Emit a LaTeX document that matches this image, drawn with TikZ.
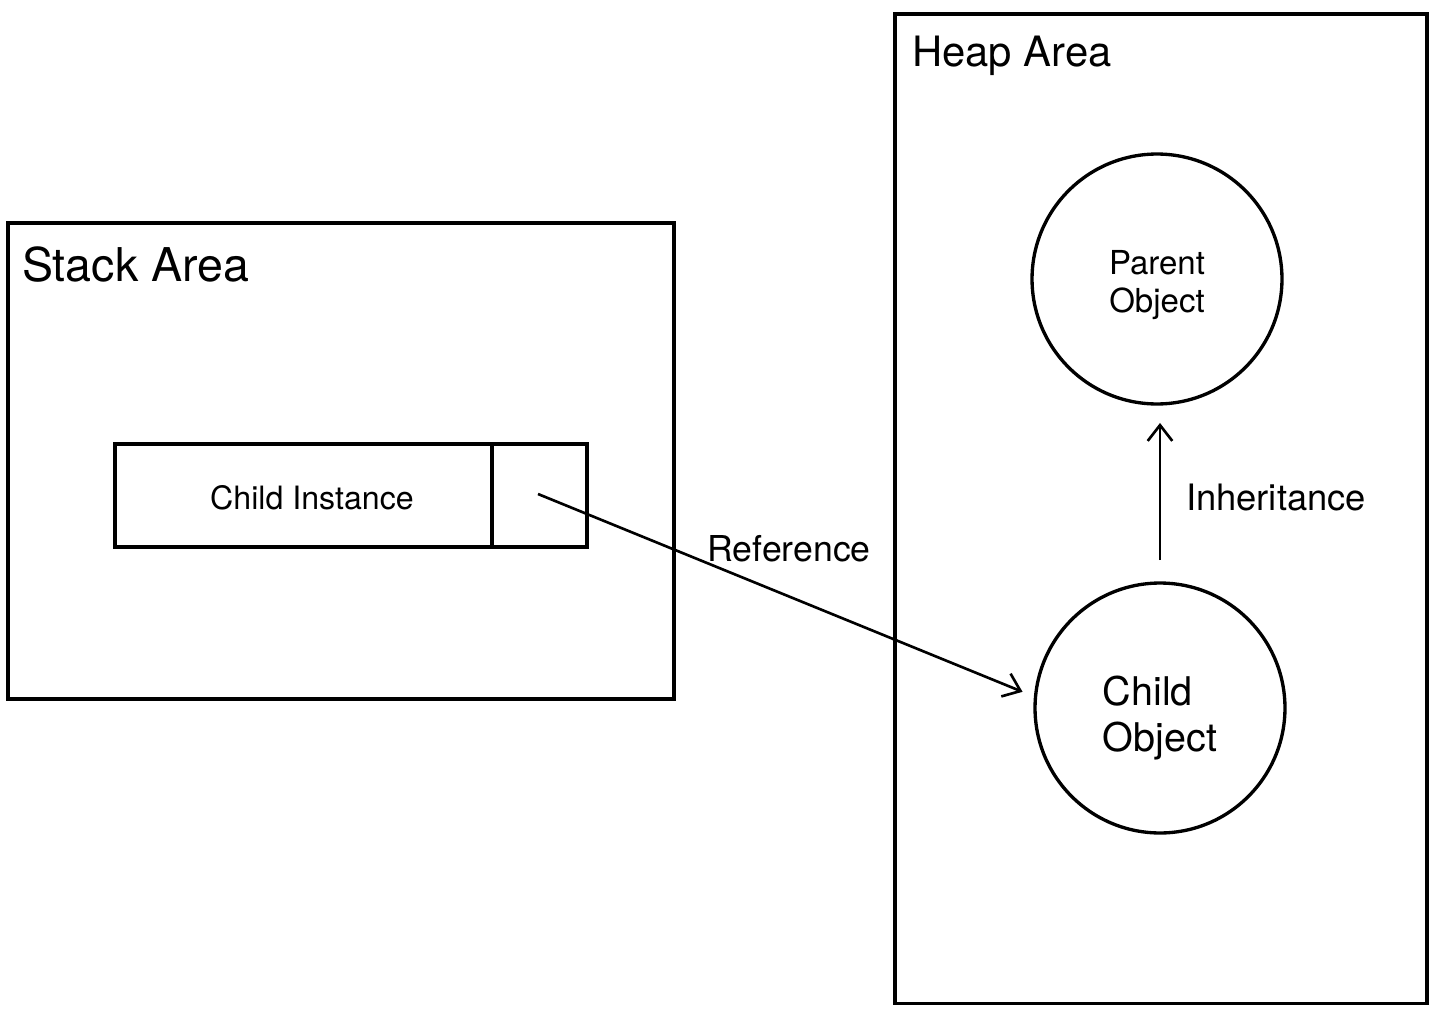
\documentclass[tikz,border=0pt]{standalone}
\usepackage{fontspec}
\setmainfont{TeX Gyre Heros}
\usetikzlibrary{arrows.meta}
\begin{document}
\begin{tikzpicture}[x=0.02cm, y=-0.02cm, line width=1.9pt,
		every node/.style={inner sep=0pt, outer sep=0},
		area/.style={draw, anchor=north west},
		obj/.style={draw, circle, minimum size=5cm},
		conn/.style={line width=1.5pt, -{Straight Barb[length=9pt, width=14pt, line width=1.5pt]}},
		mid/.style={font=\fontsize{20.3}{24}\selectfont}]
		\useasboundingbox (0,0) rectangle (1440,1021);

		% the two memory areas
		\node[area, minimum width=13.32cm, minimum height=9.52cm] (stack) at (8,223) {};
		\node[area, minimum width=10.64cm, minimum height=19.8cm] (heap) at (895,14) {};
		\node[font=\fontsize{26.5}{30}\selectfont, anchor=base west] (stacklbl) at (22,281) {Stack Area};
		\node[font=\fontsize{23.8}{28}\selectfont, anchor=base west] (heaplbl) at (912,66) {Heap Area};

		% variable on the stack
		\node[draw, anchor=north west, minimum width=7.54cm, minimum height=2.06cm] (inst) at (115,444) {};
		\node[draw, anchor=north west, minimum width=1.9cm, minimum height=2.06cm] (cell) at (492,444) {};
		\node[font=\fontsize{18.3}{22}\selectfont] (instlbl) at (312,498) {Child Instance};
		\coordinate (ptr) at (538,494);

		% objects on the heap
		\node[obj] (parent) at (1157,279) {};
		\node[obj] (child) at (1160,708) {};
		\node[align=center, font=\fontsize{18.8}{21.6}\selectfont] (parentlbl) at (1157,285) {Parent\\Object};
		\node[align=left, font=\fontsize{22.5}{26.7}\selectfont] (childlbl) at (1160,718) {Child\\Object};

		\draw[conn, shorten >=0.28cm] (ptr) -- (child.175);
		\draw[conn, shorten <=0.46cm, shorten >=0.38cm] (child.north) -- (child.north |- parent.south);
		\node[mid] (reflbl) at (789,549) {Reference};
		\node[font=\fontsize{20.7}{24}\selectfont] (inhlbl) at (1276,498) {Inheritance};
	\end{tikzpicture}
\end{document}
